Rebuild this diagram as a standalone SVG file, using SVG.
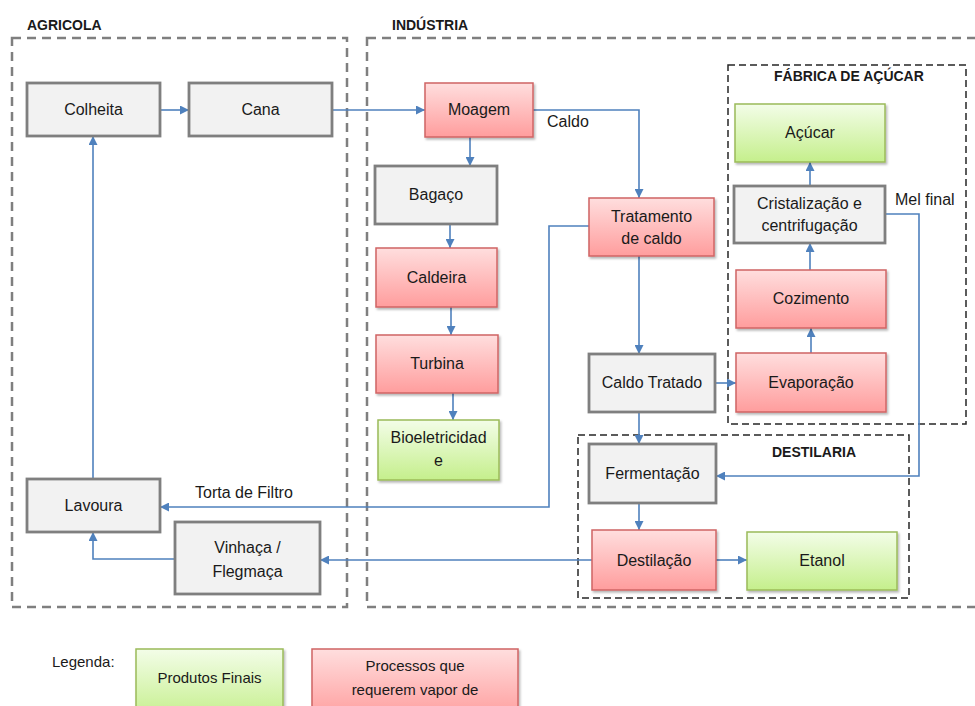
<svg xmlns="http://www.w3.org/2000/svg" width="975" height="706" viewBox="0 0 975 706">
<defs>
<linearGradient id="gRed" x1="0" y1="0" x2="0" y2="1"><stop offset="0" stop-color="#ffdede"/><stop offset="1" stop-color="#ff9d9d"/></linearGradient>
<linearGradient id="gGreen" x1="0" y1="0" x2="0" y2="1"><stop offset="0" stop-color="#f3fde8"/><stop offset="1" stop-color="#c5ef8c"/></linearGradient>
<filter id="sh" x="-10%" y="-10%" width="130%" height="140%"><feDropShadow dx="1.5" dy="2" stdDeviation="1.2" flood-color="#000" flood-opacity="0.28"/></filter>
<marker id="arr" viewBox="0 0 10 10" refX="10" refY="5" markerWidth="9" markerHeight="9" markerUnits="userSpaceOnUse" orient="auto"><path d="M0,0 L10,5 L0,10 z" fill="#4f81bd"/></marker>
<style>
.grp{fill:none;stroke:#7f7f7f;stroke-width:2.5;stroke-dasharray:9 6}
.sub{fill:none;stroke:#262626;stroke-width:1.5;stroke-dasharray:7 4}
.gray{fill:#f2f2f2;stroke:#7f7f7f;stroke-width:2.8}
.red{fill:url(#gRed);stroke:#d06464;stroke-width:1.5;filter:url(#sh)}
.green{fill:url(#gGreen);stroke:#9bbb59;stroke-width:1.5;filter:url(#sh)}
.t{font-family:"Liberation Sans",Arial,sans-serif;font-size:16px;fill:#1a1a1a;text-anchor:middle}
.lbl{font-family:"Liberation Sans",Arial,sans-serif;font-size:16px;fill:#1a1a1a}
.h{font-family:"Liberation Sans",Arial,sans-serif;font-size:14px;font-weight:bold;fill:#1a1a1a}
.c{fill:none;stroke:#4f81bd;stroke-width:1.6;marker-end:url(#arr)}
.cl{fill:none;stroke:#4f81bd;stroke-width:1.6}
</style>
</defs>
<rect width="975" height="706" fill="#ffffff"/>

<g id="areas">
<text class="h" x="27" y="30">AGRICOLA</text>
<rect class="grp" x="12" y="38" width="335" height="569"/>
<text class="h" x="392" y="30">INDÚSTRIA</text>
<rect class="grp" x="367" y="38" width="620" height="569"/>
<rect class="sub" x="728" y="65" width="238" height="359"/>
<text class="h" x="774" y="81">FÁBRICA DE AÇÚCAR</text>
<rect class="sub" x="578" y="435" width="331" height="163"/>
<text class="h" x="772" y="457">DESTILARIA</text>
</g>

<g id="connectors">
<path class="c" d="M160,110 H189"/>
<path class="c" d="M332,110 H425"/>
<path class="c" d="M533,110 H639 V198"/>
<path class="c" d="M470,137 V166"/>
<path class="c" d="M450,224 V248"/>
<path class="c" d="M451,307 V335"/>
<path class="c" d="M453,393 V420"/>
<path class="c" d="M589,226 H549 V507 H160"/>
<path class="c" d="M639,256 V354"/>
<path class="c" d="M715,383 H736"/>
<path class="c" d="M811,353 V328"/>
<path class="c" d="M810,270 V243"/>
<path class="c" d="M810,186 V162"/>
<path class="c" d="M885,214 H919 V476 H716"/>
<path class="c" d="M639,412 V444"/>
<path class="c" d="M639,503 V530"/>
<path class="c" d="M716,560 H747"/>
<path class="c" d="M592,560 H320"/>
<path class="c" d="M175,559 H93 V532"/>
<path class="c" d="M93,479 V136"/>
<text class="lbl" x="547" y="127">Caldo</text>
<text class="lbl" x="195" y="498">Torta de Filtro</text>
<text class="lbl" x="895" y="205">Mel final</text>
</g>

<g id="colheita"><rect class="gray" x="27" y="83" width="133" height="53"/><text class="t" x="93.5" y="115">Colheita</text></g>
<g id="cana"><rect class="gray" x="189" y="83" width="143" height="53"/><text class="t" x="260.5" y="115">Cana</text></g>
<g id="moagem"><rect class="red" x="425" y="83" width="108" height="54"/><text class="t" x="479" y="115">Moagem</text></g>
<g id="bagaco"><rect class="gray" x="375" y="166" width="122" height="58"/><text class="t" x="436" y="200">Bagaço</text></g>
<g id="caldeira"><rect class="red" x="376" y="248" width="121" height="59"/><text class="t" x="436.5" y="283">Caldeira</text></g>
<g id="turbina"><rect class="red" x="376" y="335" width="122" height="58"/><text class="t" x="437" y="369">Turbina</text></g>
<g id="bioeletricidade"><rect class="green" x="378" y="420" width="121" height="60"/><text class="t" x="438.5" y="443">Bioeletricidad</text><text class="t" x="438.5" y="466">e</text></g>
<g id="tratamento"><rect class="red" x="589" y="198" width="125" height="58"/><text class="t" x="651.5" y="222">Tratamento</text><text class="t" x="651.5" y="244">de caldo</text></g>
<g id="caldo-tratado"><rect class="gray" x="589" y="354" width="126" height="58"/><text class="t" x="652" y="388">Caldo Tratado</text></g>
<g id="acucar"><rect class="green" x="735" y="104" width="150" height="58"/><text class="t" x="810" y="138">Açúcar</text></g>
<g id="cristalizacao"><rect class="gray" x="734" y="186" width="151" height="57"/><text class="t" x="809.5" y="209">Cristalização e</text><text class="t" x="809.5" y="231">centrifugação</text></g>
<g id="cozimento"><rect class="red" x="736" y="270" width="150" height="58"/><text class="t" x="811" y="304">Cozimento</text></g>
<g id="evaporacao"><rect class="red" x="736" y="353" width="150" height="59"/><text class="t" x="811" y="388">Evaporação</text></g>
<g id="fermentacao"><rect class="gray" x="589" y="444" width="127" height="59"/><text class="t" x="652.5" y="479">Fermentação</text></g>
<g id="destilacao"><rect class="red" x="592" y="530" width="124" height="60"/><text class="t" x="654" y="566">Destilação</text></g>
<g id="etanol"><rect class="green" x="747" y="532" width="150" height="58"/><text class="t" x="822" y="566">Etanol</text></g>
<g id="lavoura"><rect class="gray" x="27" y="479" width="133" height="53"/><text class="t" x="93.5" y="511">Lavoura</text></g>
<g id="vinhaca"><rect class="gray" x="175" y="522" width="145" height="72"/><text class="t" x="247.5" y="553">Vinhaça /</text><text class="t" x="247.5" y="577">Flegmaça</text></g>

<g id="legenda">
<text class="lbl" x="52" y="667" style="font-size:15px">Legenda:</text>
<g id="leg-produtos"><rect class="green" x="136" y="649" width="147" height="70"/><text class="t" x="209.5" y="683" style="font-size:15px">Produtos Finais</text></g>
<g id="leg-processos"><rect class="red" x="312" y="649" width="206" height="70"/><text class="t" x="415" y="671" style="font-size:15px">Processos que</text><text class="t" x="415" y="695" style="font-size:15px">requerem vapor de</text></g>
</g>
</svg>
